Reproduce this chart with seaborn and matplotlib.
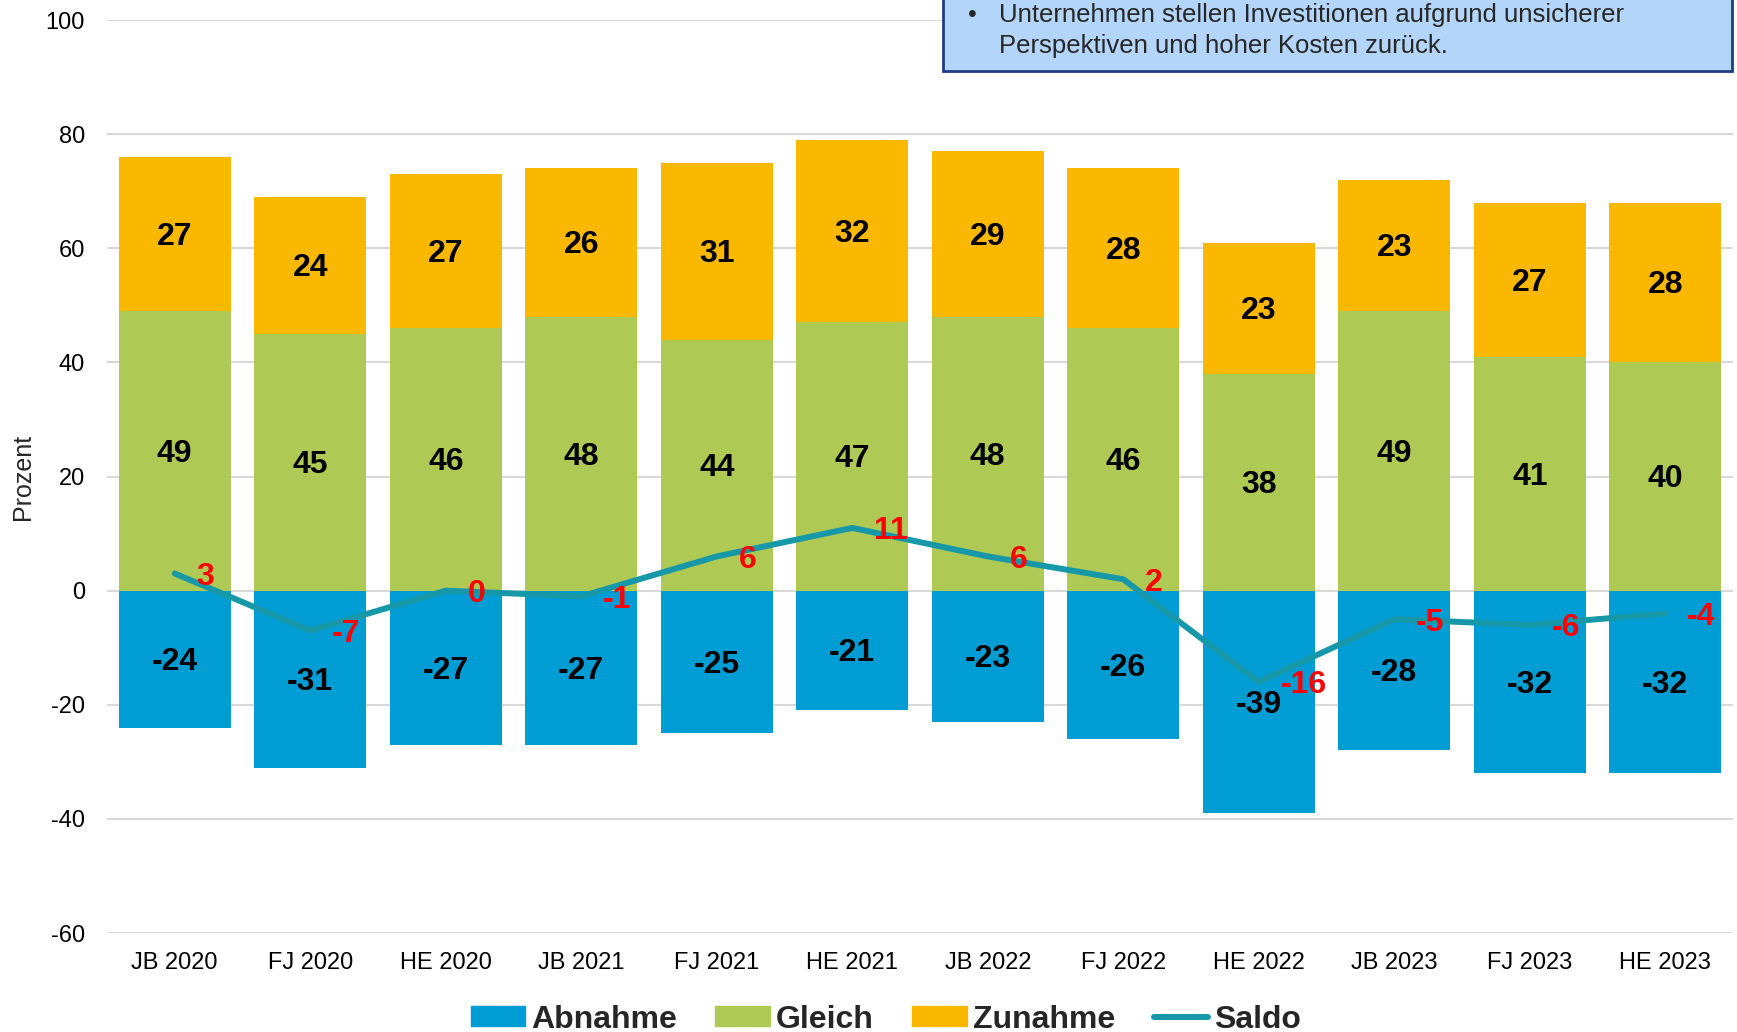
import numpy as np
import pandas as pd
import matplotlib
matplotlib.use("Agg")
import matplotlib.pyplot as plt
from matplotlib.patches import Patch, Rectangle
from matplotlib.lines import Line2D
import seaborn as sns

categories = ["JB 2020", "FJ 2020", "HE 2020", "JB 2021", "FJ 2021", "HE 2021",
              "JB 2022", "FJ 2022", "HE 2022", "JB 2023", "FJ 2023", "HE 2023"]
abnahme = [-24, -31, -27, -27, -25, -21, -23, -26, -39, -28, -32, -32]
gleich = [49, 45, 46, 48, 44, 47, 48, 46, 38, 49, 41, 40]
zunahme = [27, 24, 27, 26, 31, 32, 29, 28, 23, 23, 27, 28]
saldo = [3, -7, 0, -1, 6, 11, 6, 2, -16, -5, -6, -4]

c_ab = "#009DD5"
c_gl = "#AFCA54"
c_zu = "#FAB900"
c_sa = "#1698A8"

sns.set_style("white")
plt.rcParams["font.family"] = ["Liberation Sans", "DejaVu Sans"]
plt.rcParams["axes.unicode_minus"] = False

df = pd.DataFrame({"cat": categories, "ab": abnahme, "gl": gleich, "zu": zunahme, "sa": saldo})
df["top"] = df["gl"] + df["zu"]
df["pos"] = np.arange(len(df))

fig = plt.figure(figsize=(17.37, 10.32), dpi=100)
ax = fig.add_axes([0.0616, 0.0959, 0.9361, 0.8847])

# stacked look: total (orange) first, then green over it, blue below zero
for col, c in [("top", c_zu), ("gl", c_gl), ("ab", c_ab)]:
    sns.barplot(data=df, x="cat", y=col, color=c, saturation=1, width=0.83,
                linewidth=0, edgecolor="none", ax=ax)
sns.lineplot(data=df, x="pos", y="sa", color=c_sa, linewidth=4.3, sort=False, ax=ax, zorder=5)

for i, row in df.iterrows():
    ax.text(i, row["ab"] / 2 - 0.5, f"{row['ab']}", ha="center", va="center",
            fontsize=23, fontweight="bold", color="black", zorder=6)
    ax.text(i, row["gl"] / 2 - 0.5, f"{row['gl']}", ha="center", va="center",
            fontsize=23, fontweight="bold", color="black", zorder=6)
    ax.text(i, row["gl"] + row["zu"] / 2 - 0.5, f"{row['zu']}", ha="center", va="center",
            fontsize=23, fontweight="bold", color="black", zorder=6)
    ax.text(i + 0.16, row["sa"] - 0.6, f"{row['sa']}", ha="left", va="center",
            fontsize=23, fontweight="bold", color="#FF0000", zorder=7)

ax.set_xlim(-0.5, len(df) - 0.5)
ax.set_ylim(-60, 100)
ax.set_yticks(range(-60, 101, 20))
ax.yaxis.grid(True, color="#D9D9D9", linewidth=1.5)
ax.set_axisbelow(True)
for s in ax.spines.values():
    s.set_visible(False)
ax.tick_params(axis="both", length=0, labelsize=17, colors="black")
ax.tick_params(axis="y", pad=16)
ax.tick_params(axis="x", pad=14)
ax.set_xlabel("")
ax.set_ylabel("Prozent", fontsize=18)
ax.yaxis.set_label_coords(-0.044, 0.5)

handles = [Patch(color=c_ab, label="Abnahme"), Patch(color=c_gl, label="Gleich"),
           Patch(color=c_zu, label="Zunahme"), Line2D([], [], color=c_sa, linewidth=4.3, label="Saldo")]
fig.legend(handles=handles, loc="center", bbox_to_anchor=(0.51, 0.012), ncol=4, frameon=False,
           prop={"size": 23, "weight": "bold"}, handlelength=1.7, handleheight=0.6,
           handletextpad=0.2, columnspacing=1.2)

# note box in the top right corner
box = Rectangle((0.543, 0.931), 0.454, 0.1, transform=fig.transFigure,
                facecolor="#B4D5FA", edgecolor="#1F3D87", linewidth=2, zorder=10)
fig.patches.append(box)
fig.text(0.557, 0.985, "\u2022", fontsize=18, va="center", ha="left", zorder=11)
fig.text(0.575, 0.985, "Unternehmen stellen Investitionen aufgrund unsicherer",
         fontsize=18.5, va="center", ha="left", zorder=11)
fig.text(0.575, 0.955, "Perspektiven und hoher Kosten zur\u00fcck.",
         fontsize=18.5, va="center", ha="left", zorder=11)

fig.savefig("out.png", dpi=100)
